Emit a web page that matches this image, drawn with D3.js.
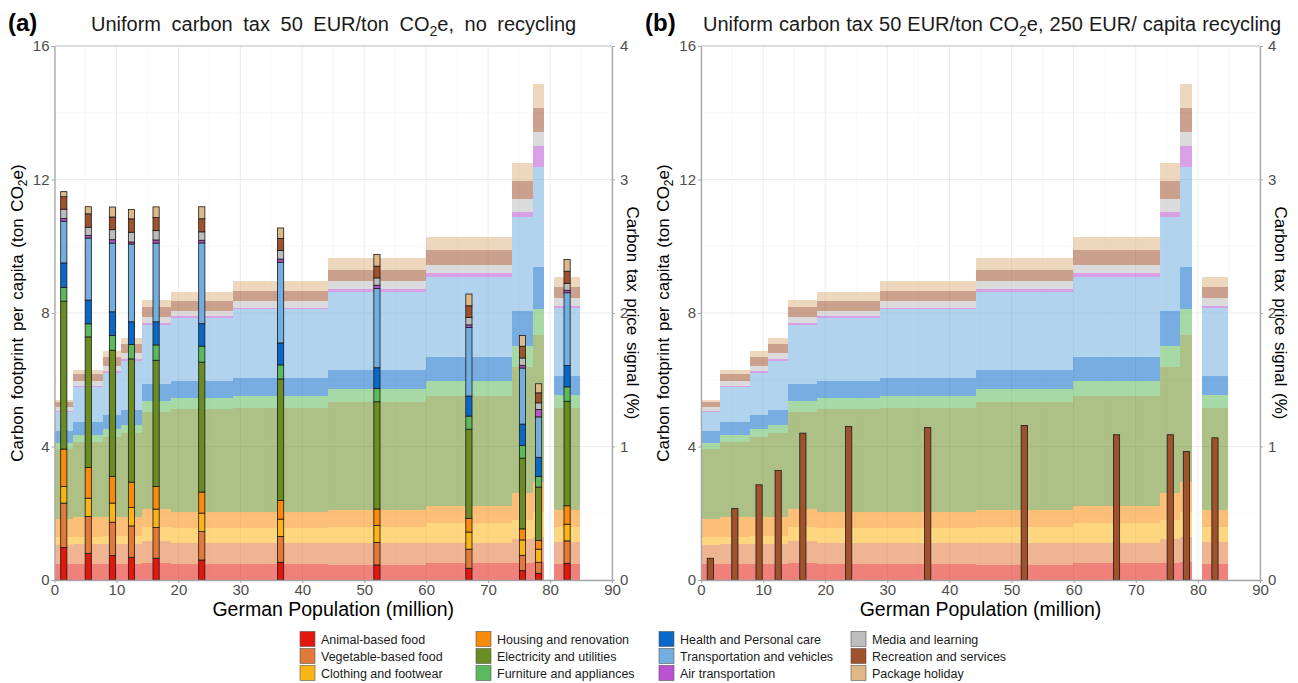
<!DOCTYPE html>
<html lang="en">
<head>
<meta charset="UTF-8">
<title>Carbon tax price signal</title>
<script src="https://d3js.org/d3.v7.min.js"></script>
<style>
  body { margin: 0; background: #fff; }
  svg { font-family: "Liberation Sans", Arial, sans-serif; }
</style>
</head>
<body>
<svg id="chart" width="1298" height="683"></svg>
<script>
// income groups along the population axis (million)
const groupStart = [0, 3.0, 7.9, 10.8, 14.05, 18.75, 28.8, 44.2, 59.9, 73.9, 77.2, 80.7];
const groupEnd   = [3.0, 7.9, 10.8, 14.05, 18.75, 28.8, 44.2, 59.9, 73.9, 77.2, 79.1, 84.8];

const categories = ["Animal-based food", "Vegetable-based food", "Clothing and footwear",
  "Housing and renovation", "Electricity and utilities", "Furniture and appliances",
  "Health and Personal care", "Transportation and vehicles", "Air transportation",
  "Media and learning", "Recreation and services", "Package holiday"];
const colors = ["#E3170D", "#E1793A", "#FBB416", "#FA8A0A", "#6A8C22", "#5DB95D",
  "#0A69C8", "#72AFE0", "#BA52D2", "#BDBDBD", "#A0522D", "#DEB887"];

// carbon footprint per capita (ton CO2e), one value per group
const fpAnimal      = [0.47, 0.47, 0.47, 0.47, 0.52, 0.48, 0.48, 0.45, 0.50, 0.52, 0.55, 0.48];
const fpVegetable   = [0.58, 0.60, 0.60, 0.60, 0.66, 0.64, 0.64, 0.67, 0.62, 0.70, 0.75, 0.65];
const fpClothing    = [0.25, 0.23, 0.25, 0.25, 0.40, 0.43, 0.43, 0.48, 0.60, 0.58, 0.75, 0.47];
const fpHousing     = [0.52, 0.58, 0.58, 0.58, 0.54, 0.50, 0.48, 0.50, 0.50, 0.80, 0.90, 0.50];
const fpElectricity = [2.11, 2.24, 2.38, 2.50, 2.90, 3.07, 3.12, 3.22, 3.28, 3.77, 4.38, 3.05];
const fpFurniture   = [0.17, 0.21, 0.25, 0.25, 0.33, 0.33, 0.37, 0.40, 0.47, 0.65, 0.79, 0.38];
const fpHealth      = [0.35, 0.40, 0.42, 0.43, 0.52, 0.50, 0.53, 0.58, 0.70, 1.05, 1.27, 0.59];
const fpTransport   = [0.57, 1.05, 1.25, 1.49, 1.78, 1.90, 2.07, 2.33, 2.42, 2.82, 2.99, 2.03];
const fpAir         = [0.04, 0.04, 0.05, 0.05, 0.05, 0.05, 0.04, 0.08, 0.10, 0.15, 0.62, 0.07];
const fpMedia       = [0.12, 0.13, 0.17, 0.18, 0.17, 0.17, 0.19, 0.25, 0.25, 0.38, 0.43, 0.23];
const fpRecreation  = [0.15, 0.23, 0.26, 0.27, 0.30, 0.30, 0.32, 0.33, 0.45, 0.53, 0.70, 0.32];
const fpPackage     = [0.07, 0.12, 0.19, 0.18, 0.23, 0.26, 0.28, 0.35, 0.40, 0.55, 0.72, 0.32];

// carbon tax price signal (%) by category, no recycling
const psAnimal      = [0.243, 0.200, 0.183, 0.170, 0.163, 0.150, 0.133, 0.113, 0.088, 0.070, 0.050, 0.125];
const psVegetable   = [0.333, 0.275, 0.250, 0.235, 0.230, 0.213, 0.193, 0.168, 0.143, 0.115, 0.083, 0.168];
const psClothing    = [0.125, 0.138, 0.143, 0.138, 0.138, 0.138, 0.130, 0.128, 0.128, 0.115, 0.098, 0.125];
const psHousing     = [0.280, 0.230, 0.200, 0.190, 0.170, 0.158, 0.140, 0.123, 0.103, 0.083, 0.065, 0.138];
const psElectricity = [1.108, 0.978, 0.945, 0.923, 0.945, 0.973, 0.910, 0.803, 0.668, 0.530, 0.400, 0.783];
const psFurniture   = [0.103, 0.098, 0.110, 0.108, 0.115, 0.120, 0.105, 0.100, 0.098, 0.095, 0.080, 0.108];
const psHealth      = [0.183, 0.178, 0.178, 0.170, 0.173, 0.168, 0.165, 0.155, 0.150, 0.160, 0.143, 0.160];
const psTransport   = [0.313, 0.465, 0.515, 0.583, 0.590, 0.605, 0.605, 0.593, 0.513, 0.420, 0.303, 0.545];
const psAir         = [0.020, 0.018, 0.025, 0.015, 0.023, 0.020, 0.023, 0.025, 0.020, 0.020, 0.055, 0.018];
const psMedia       = [0.070, 0.063, 0.075, 0.073, 0.070, 0.063, 0.065, 0.055, 0.055, 0.055, 0.050, 0.053];
const psRecreation  = [0.093, 0.100, 0.095, 0.100, 0.098, 0.098, 0.090, 0.088, 0.088, 0.088, 0.075, 0.090];
const psPackage     = [0.038, 0.053, 0.075, 0.070, 0.080, 0.090, 0.078, 0.088, 0.088, 0.080, 0.068, 0.088];

// net price signal (%) with 250 EUR/capita recycling
const psNet = [0.163, 0.535, 0.713, 0.820, 1.100, 1.150, 1.143, 1.158, 1.088, 1.088, 0.963, 1.065];

const xTicks = [0, 10, 20, 30, 40, 50, 60, 70, 80, 90];
const yTicks = [0, 4, 8, 12, 16];
const y2Ticks = [0, 1, 2, 3, 4];

const fpSeries = [fpAnimal, fpVegetable, fpClothing, fpHousing, fpElectricity, fpFurniture,
  fpHealth, fpTransport, fpAir, fpMedia, fpRecreation, fpPackage];
const psSeries = [psAnimal, psVegetable, psClothing, psHousing, psElectricity, psFurniture,
  psHealth, psTransport, psAir, psMedia, psRecreation, psPackage];

const toRows = series => groupStart.map((s, i) => {
  const row = {i: i};
  categories.forEach((c, k) => row[c] = series[k][i]);
  return row;
});
const stack = d3.stack().keys(categories);
const fpStack = stack(toRows(fpSeries));
const psStack = stack(toRows(psSeries));

const svg = d3.select("#chart");
const plotTop = 46, plotBottom = 580;
const barWidth = 1.0;

function drawPanel(left, right, letter, letterX, titleX, titleSpacing, titleRest, stacked) {
  const x = d3.scaleLinear().domain([0, 90]).range([left, right]);
  const y = d3.scaleLinear().domain([0, 16]).range([plotBottom, plotTop]);
  const y2 = d3.scaleLinear().domain([0, 4]).range([plotBottom, plotTop]);
  const g = svg.append("g");

  // grid
  const grid = g.append("g");
  d3.range(5, 90, 10).forEach(v => grid.append("line")
    .attr("x1", x(v)).attr("x2", x(v)).attr("y1", plotTop).attr("y2", plotBottom)
    .attr("stroke", "#F3F3F3").attr("stroke-width", 0.6));
  [2, 6, 10, 14].forEach(v => grid.append("line")
    .attr("x1", left).attr("x2", right).attr("y1", y(v)).attr("y2", y(v))
    .attr("stroke", "#F3F3F3").attr("stroke-width", 0.6));
  xTicks.forEach(v => grid.append("line")
    .attr("x1", x(v)).attr("x2", x(v)).attr("y1", plotTop).attr("y2", plotBottom)
    .attr("stroke", "#E6E6E6").attr("stroke-width", 0.8));
  yTicks.forEach(v => grid.append("line")
    .attr("x1", left).attr("x2", right).attr("y1", y(v)).attr("y2", y(v))
    .attr("stroke", "#E6E6E6").attr("stroke-width", 0.8));

  // footprint step areas
  g.append("g").selectAll("g").data(fpStack).join("g")
    .attr("fill", (d, k) => colors[k])
    .attr("fill-opacity", 0.55)
    .selectAll("rect").data(d => d).join("rect")
    .attr("shape-rendering", "crispEdges")
    .attr("x", d => x(groupStart[d.data.i]))
    .attr("width", d => x(groupEnd[d.data.i]) - x(groupStart[d.data.i]))
    .attr("y", d => y(d[1]))
    .attr("height", d => y(d[0]) - y(d[1]));

  const mid = i => (groupStart[i] + groupEnd[i]) / 2;
  if (stacked) {
    g.append("g").selectAll("g").data(psStack).join("g")
      .attr("fill", (d, k) => colors[k])
      .selectAll("rect").data(d => d).join("rect")
      .attr("x", d => x(mid(d.data.i) - barWidth / 2))
      .attr("width", x(barWidth) - x(0))
      .attr("y", d => y2(d[1]))
      .attr("height", d => y2(d[0]) - y2(d[1]))
      .attr("stroke", "#1a1a1a").attr("stroke-width", 0.8);
  } else {
    g.append("g").selectAll("rect").data(psNet).join("rect")
      .attr("x", (d, i) => x(mid(i) - barWidth / 2))
      .attr("width", x(barWidth) - x(0))
      .attr("y", d => y2(d))
      .attr("height", d => y2(0) - y2(d))
      .attr("fill", colors[10])
      .attr("stroke", "#1a1a1a").attr("stroke-width", 0.8);
  }

  // frame
  g.append("line").attr("x1", left).attr("x2", right).attr("y1", plotTop).attr("y2", plotTop)
    .attr("stroke", "#C4C4C4").attr("stroke-width", 1.2);

  const styleAxis = a => {
    a.select(".domain").attr("stroke", "#A6A6A6").attr("stroke-width", 1.3);
    a.selectAll(".tick line").attr("stroke", "#A6A6A6");
    a.selectAll(".tick text").attr("fill", "#4D4D4D").attr("font-size", 15)
      .attr("font-family", "Liberation Sans, Arial, sans-serif");
  };
  g.append("g").attr("transform", `translate(${left},0)`)
    .call(d3.axisLeft(y).tickValues(yTicks).tickSize(3).tickSizeOuter(0).tickPadding(2))
    .call(styleAxis);
  g.append("g").attr("transform", `translate(${right},0)`)
    .call(d3.axisRight(y2).tickValues(y2Ticks).tickFormat(d3.format("d"))
      .tickSize(3).tickSizeOuter(0).tickPadding(5))
    .call(styleAxis);
  g.append("g").attr("transform", `translate(0,${plotBottom})`)
    .call(d3.axisBottom(x).tickValues(xTicks).tickSize(3).tickSizeOuter(0).tickPadding(1))
    .call(styleAxis);

  // titles
  svg.append("text").attr("x", letterX).attr("y", 31)
    .attr("font-size", 24).attr("font-weight", "bold").text(letter);
  const t = svg.append("text").attr("x", titleX).attr("y", 31)
    .attr("font-size", 20).attr("word-spacing", titleSpacing).attr("fill", "#1a1a1a");
  t.append("tspan").text("Uniform carbon tax 50 EUR/ton CO");
  t.append("tspan").attr("font-size", 14).attr("dy", 5).text("2");
  t.append("tspan").attr("dy", -5).text("e, " + titleRest);

  const cy = (plotTop + plotBottom) / 2;
  const yl = svg.append("text")
    .attr("transform", `translate(${left - 32},${cy}) rotate(-90)`)
    .attr("text-anchor", "middle").attr("font-size", 17).attr("word-spacing", 2);
  yl.append("tspan").text("Carbon footprint per capita (ton CO");
  yl.append("tspan").attr("font-size", 12).attr("dy", 4).text("2");
  yl.append("tspan").attr("dy", -4).text("e)");

  svg.append("text")
    .attr("transform", `translate(${right + 15},${cy}) rotate(90)`)
    .attr("text-anchor", "middle").attr("font-size", 17).attr("word-spacing", 2)
    .text("Carbon tax price signal (%)");

  svg.append("text").attr("x", (left + right) / 2).attr("y", 616)
    .attr("text-anchor", "middle").attr("font-size", 19.5)
    .text("German Population (million)");
}

drawPanel(54.5, 612, "(a)", 8, 91, 5, "no recycling", true);
drawPanel(701, 1260, "(b)", 645, 703, 0.5, "250 EUR/ capita recycling", false);

// legend, 4 columns x 3 rows
const legendX = [300, 476, 659, 851];
const legendY = [639, 656, 673];
const legend = svg.append("g");
categories.forEach((c, k) => {
  const col = Math.floor(k / 3), row = k % 3;
  legend.append("rect")
    .attr("x", legendX[col]).attr("y", legendY[row] - 7.5)
    .attr("width", 15).attr("height", 15)
    .attr("fill", colors[k]).attr("stroke", "#555").attr("stroke-width", 0.6);
  legend.append("text")
    .attr("x", legendX[col] + 21).attr("y", legendY[row] + 4.5)
    .attr("font-size", 12.5).attr("fill", "#1a1a1a")
    .text(c);
});
</script>
</body>
</html>
